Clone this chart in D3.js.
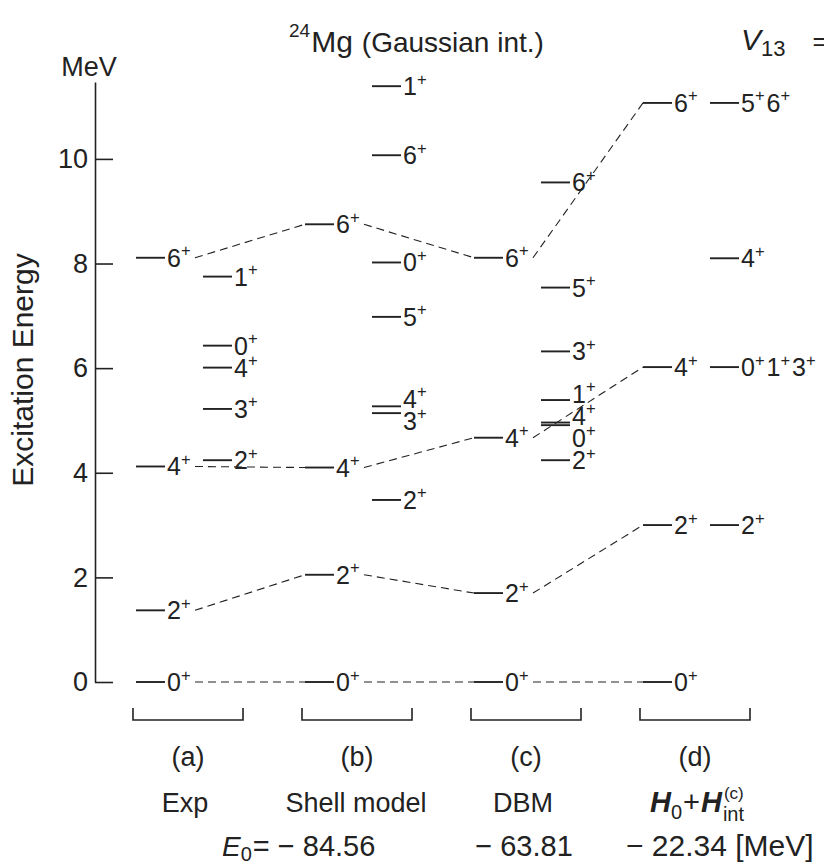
<!DOCTYPE html>
<html>
<head>
<meta charset="utf-8">
<script src="https://cdn.jsdelivr.net/npm/d3@7"></script>
<style>
  html, body { margin: 0; padding: 0; background: #fff; }
  svg { display: block; }
  text { font-family: "Liberation Sans", Arial, Helvetica, sans-serif; fill: #222; }
</style>
</head>
<body>
<svg id="chart" width="824" height="866"></svg>
<script>
// ---------------- data ----------------
const columns = ["(a)", "(b)", "(c)", "(d)"];
const columnNames = ["Exp", "Shell model", "DBM", "H0+Hint"];
const groundEnergies = ["", "− 84.56", "− 63.81", "− 22.34"];
const yTicks = [0, 2, 4, 6, 8, 10];

// yrast band (main column of each panel), connected by dashed lines
const bandSpins = ["0+", "2+", "4+", "6+"];
const band0 = [0, 0, 0, 0];
const band2 = [1.37, 2.05, 1.70, 3.00];
const band4 = [4.12, 4.10, 4.67, 6.02];
const band6 = [8.11, 8.75, 8.11, 11.07];

// other levels (second column of each panel): [spin label, energy MeV]
const sideA = [["2+", 4.24], ["3+", 5.22], ["4+", 6.01], ["0+", 6.43], ["1+", 7.75]];
const sideB = [["2+", 3.48], ["3+", 5.14], ["4+", 5.27], ["5+", 6.98], ["0+", 8.02], ["6+", 10.07], ["1+", 11.39]];
const sideC = [["2+", 4.24], ["0+", 4.91], ["4+", 4.96], ["1+", 5.39], ["3+", 6.32], ["5+", 7.54], ["6+", 9.55]];
const sideD = [["2+", 3.00], ["0+1+3+", 6.02], ["4+", 8.10], ["5+6+", 11.07]];

// ---------------- drawing ----------------
const svg = d3.select("#chart");
const ink = "#222";

const y = d3.scaleLinear().domain([0, 11.47]).range([682, 82]);
const x = d3.scaleBand().domain(columns).range([133, 750]).paddingInner(0.349).paddingOuter(0);

const bands = [band0, band2, band4, band6];
const sides = [sideA, sideB, sideC, sideD];

// axis
const axis = d3.axisLeft(y).tickValues(yTicks).tickSizeInner(-18).tickSizeOuter(0).tickPadding(7);
const ag = svg.append("g").attr("transform", "translate(95,0)").call(axis);
ag.select(".domain").attr("stroke", ink).attr("stroke-width", 1.6);
ag.selectAll(".tick line").attr("stroke", ink).attr("stroke-width", 1.6);
ag.selectAll(".tick text").attr("font-size", 27).attr("fill", ink)
  .attr("font-family", "Liberation Sans, Arial, sans-serif");

svg.append("text").attr("x", 89).attr("y", 76).attr("text-anchor", "middle")
  .attr("font-size", 27).text("MeV");
svg.append("text").attr("transform", "translate(33,370) rotate(-90)")
  .attr("text-anchor", "middle").attr("font-size", 30).text("Excitation Energy");

// spin label helper: "6+" -> 6 with superscript +
function spinLabel(g, x0, yc, label, size) {
  const t = g.append("text").attr("x", x0).attr("y", yc + size * 0.36).attr("font-size", size);
  const parts = label.match(/\d[+-]/g);
  parts.forEach((p, i) => {
    t.append("tspan").attr("dy", i === 0 ? 0 : size * 0.42)
      .attr("dx", i === 0 ? 0 : 2).text(p[0]);
    t.append("tspan").attr("font-size", size * 0.66).attr("dy", -size * 0.42).text(p[1]);
  });
  return t;
}

// avoid label overlaps in a column (min vertical gap in px)
function spread(ys, gap) {
  const items = ys.map((v, i) => ({ i, y0: v })).sort((a, b) => a.y0 - b.y0);
  let groups = items.map(d => ({ members: [d], c: d.y0 }));
  let changed = true;
  while (changed) {
    changed = false;
    for (let k = 0; k < groups.length - 1; k++) {
      const a = groups[k], b = groups[k + 1];
      const aBot = a.c + (a.members.length - 1) * gap / 2;
      const bTop = b.c - (b.members.length - 1) * gap / 2;
      if (bTop - aBot < gap - 0.01) {
        const m = a.members.concat(b.members);
        groups.splice(k, 2, { members: m, c: d3.mean(m, d => d.y0) });
        changed = true;
        break;
      }
    }
  }
  const out = new Array(ys.length);
  groups.forEach(gp => {
    const n = gp.members.length;
    gp.members.forEach((d, j) => { out[d.i] = gp.c + (j - (n - 1) / 2) * gap; });
  });
  return out;
}

const lvl = svg.append("g");
const mainOff = 3, lineW = 29, sideOff = 70, labelSize = 25;

columns.forEach((col, ci) => {
  const bs = x(col);
  // main (yrast) levels
  bands.forEach((b, bi) => {
    const yy = y(b[ci]);
    lvl.append("line").attr("x1", bs + mainOff).attr("x2", bs + mainOff + lineW)
      .attr("y1", yy).attr("y2", yy).attr("stroke", ink).attr("stroke-width", 1.9);
    spinLabel(lvl, bs + mainOff + lineW + 2, yy, bandSpins[bi], labelSize);
  });
  // side levels
  const s = sides[ci];
  const ly = spread(s.map(d => y(d[1])), 22);
  s.forEach((d, i) => {
    const yy = y(d[1]);
    lvl.append("line").attr("x1", bs + sideOff).attr("x2", bs + sideOff + lineW)
      .attr("y1", yy).attr("y2", yy).attr("stroke", ink).attr("stroke-width", 1.9);
    spinLabel(lvl, bs + sideOff + lineW + 2, ly[i], d[0], labelSize);
  });
  // bracket
  const bw = x.bandwidth();
  svg.append("path")
    .attr("d", `M${bs},708 V720 H${bs + bw} V708`)
    .attr("fill", "none").attr("stroke", ink).attr("stroke-width", 1.6);
  svg.append("text").attr("x", bs + bw / 2).attr("y", 766).attr("text-anchor", "middle")
    .attr("font-size", 27).text(col);
});

// dashed connectors between yrast levels
const dashG = svg.append("g");
bands.forEach(b => {
  for (let ci = 0; ci < columns.length - 1; ci++) {
    const x1 = x(columns[ci]) + mainOff + lineW + 30;
    const x2 = x(columns[ci + 1]) + mainOff;
    dashG.append("line").attr("x1", x1).attr("y1", y(b[ci]))
      .attr("x2", x2).attr("y2", y(b[ci + 1]))
      .attr("stroke", ink).attr("stroke-width", 1.1).attr("stroke-dasharray", "8,5");
  }
});

// column names
function cx(i) { return x(columns[i]) + x.bandwidth() / 2; }
[0, 1, 2].forEach(i => {
  svg.append("text").attr("x", cx(i) + (i === 1 ? -1 : -3)).attr("y", 812)
    .attr("text-anchor", "middle").attr("font-size", 27).text(columnNames[i]);
});

// rich-text helper: sequential pieces, measured
function rich(parentG, x0, y0, pieces, anchor) {
  const g = parentG.append("g");
  let cur = 0;
  pieces.forEach(p => {
    const t = g.append("text").attr("x", cur + (p.dx || 0)).attr("y", y0 + (p.dy || 0))
      .attr("font-size", p.size).text(p.t);
    if (p.style) t.attr("font-style", p.style);
    if (p.weight) t.attr("font-weight", p.weight);
    if (p.family) t.attr("font-family", p.family);
    const w = t.node().getComputedTextLength();
    if (!p.noAdvance) cur += w + (p.dx || 0) + (p.after || 0);
  });
  const shift = anchor === "middle" ? x0 - cur / 2 : (anchor === "end" ? x0 - cur : x0);
  g.attr("transform", `translate(${shift},0)`);
  return g;
}

// H0 + Hint^(c)
rich(svg, cx(3) + 2, 812, [
  { t: "H", size: 29, style: "italic", weight: "bold" },
  { t: "0", size: 20, dy: 7 },
  { t: "+", size: 29, dx: 1 },
  { t: "H", size: 29, style: "italic", weight: "bold", dx: 1 },
  { t: "(c)", size: 17, dy: -13, dx: 2, noAdvance: true },
  { t: "int", size: 20, dy: 9, dx: 1 }
], "middle");

// E0 values
rich(svg, 222, 856, [
  { t: "E", size: 28, style: "italic" },
  { t: "0", size: 20, dy: 5 },
  { t: "= " + groundEnergies[1], size: 29, dx: 1 }
], "start");
svg.append("text").attr("x", cx(2) - 2).attr("y", 856).attr("text-anchor", "middle")
  .attr("font-size", 29).text(groundEnergies[2]);
svg.append("text").attr("x", 626).attr("y", 856).attr("font-size", 30).text(groundEnergies[3] + " [MeV]");

// title
rich(svg, 289, 52, [
  { t: "24", size: 19, dy: -15 },
  { t: "Mg", size: 30, dx: 1 },
  { t: "(Gaussian int.)", size: 28, dx: 9 }
], "start");

// V13 = (cut off at the right edge, as in the reference)
rich(svg, 741, 50, [
  { t: "V", size: 30, style: "italic", family: "Liberation Serif, serif" },
  { t: "13", size: 22, dy: 6, family: "Liberation Serif, serif" },
  { t: "=", size: 26, dx: 27, family: "Liberation Serif, serif" }
], "start");
</script>
</body>
</html>
